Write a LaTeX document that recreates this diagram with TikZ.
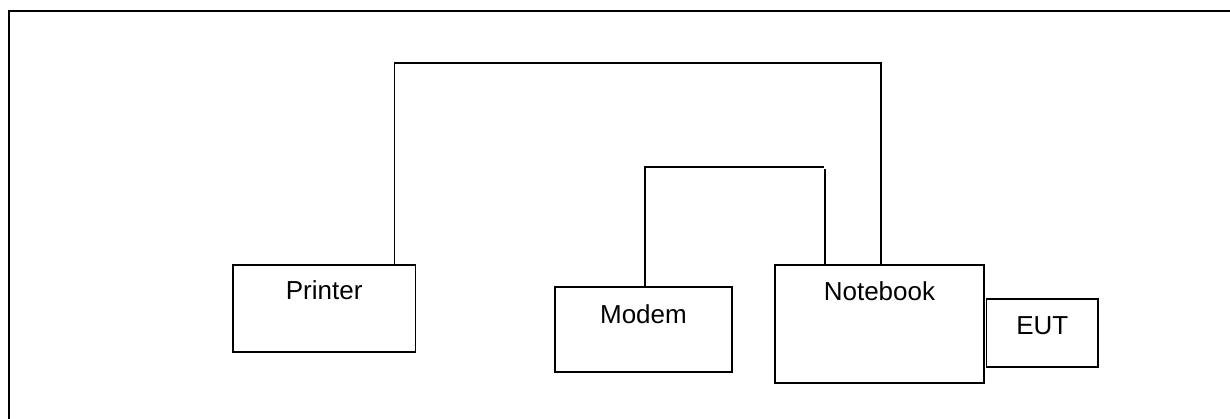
\documentclass[tikz,border=0pt]{standalone}
\usepackage{fontspec}
\setmainfont{Liberation Sans}
\begin{document}
\begin{tikzpicture}[x=1pt,y=1pt,
  line width=1.6pt,
  box/.style={draw=black, line width=1.6pt, rectangle, inner sep=0pt, anchor=north west,
    font=\fontsize{26}{30}\selectfont},
  wire/.style={draw=black, line width=1.6pt}]
\useasboundingbox (0,0) rectangle (1230,-419);
% outer frame
\coordinate (fbl) at (9,-419);
\coordinate (ftl) at (9,-11);
\coordinate (ftr) at (1232,-11);
\draw[line width=2pt] (fbl) -- (ftl) -- (ftr);
% boxes
\node[box, minimum width=182.7pt, text height=34.3pt, text depth=52.7pt] (printer) at (232,-264) {Printer};
\node[box, minimum width=176.7pt, text height=36.7pt, text depth=48.6pt] (modem) at (554.3,-286) {Modem};
\node[box, minimum width=208.7pt, text height=35.3pt, text depth=82.7pt] (notebook) at (774.3,-264) {Notebook};
\node[box, minimum width=111.6pt, text height=35.7pt, text depth=32pt] (eut) at (985.7,-298.3) {EUT};
% connectors
\coordinate (p1) at (394.3,-63.3);
\coordinate (p2) at (880.8,-63.3);
\draw[wire] (printer.north -| p1) -- (p1) -- (p2) -- (p2 |- notebook.north);
\coordinate (m1) at (645,-167.3);
\coordinate (m2) at (823.5,-167.3);
\coordinate (m3) at (825,-169);
\coordinate (m4) at (825,-266.5);
\draw[wire] (modem.north -| m1) -- (m1) -- (m2);
\draw[wire] (m3) -- (m4);
\end{tikzpicture}
\end{document}
